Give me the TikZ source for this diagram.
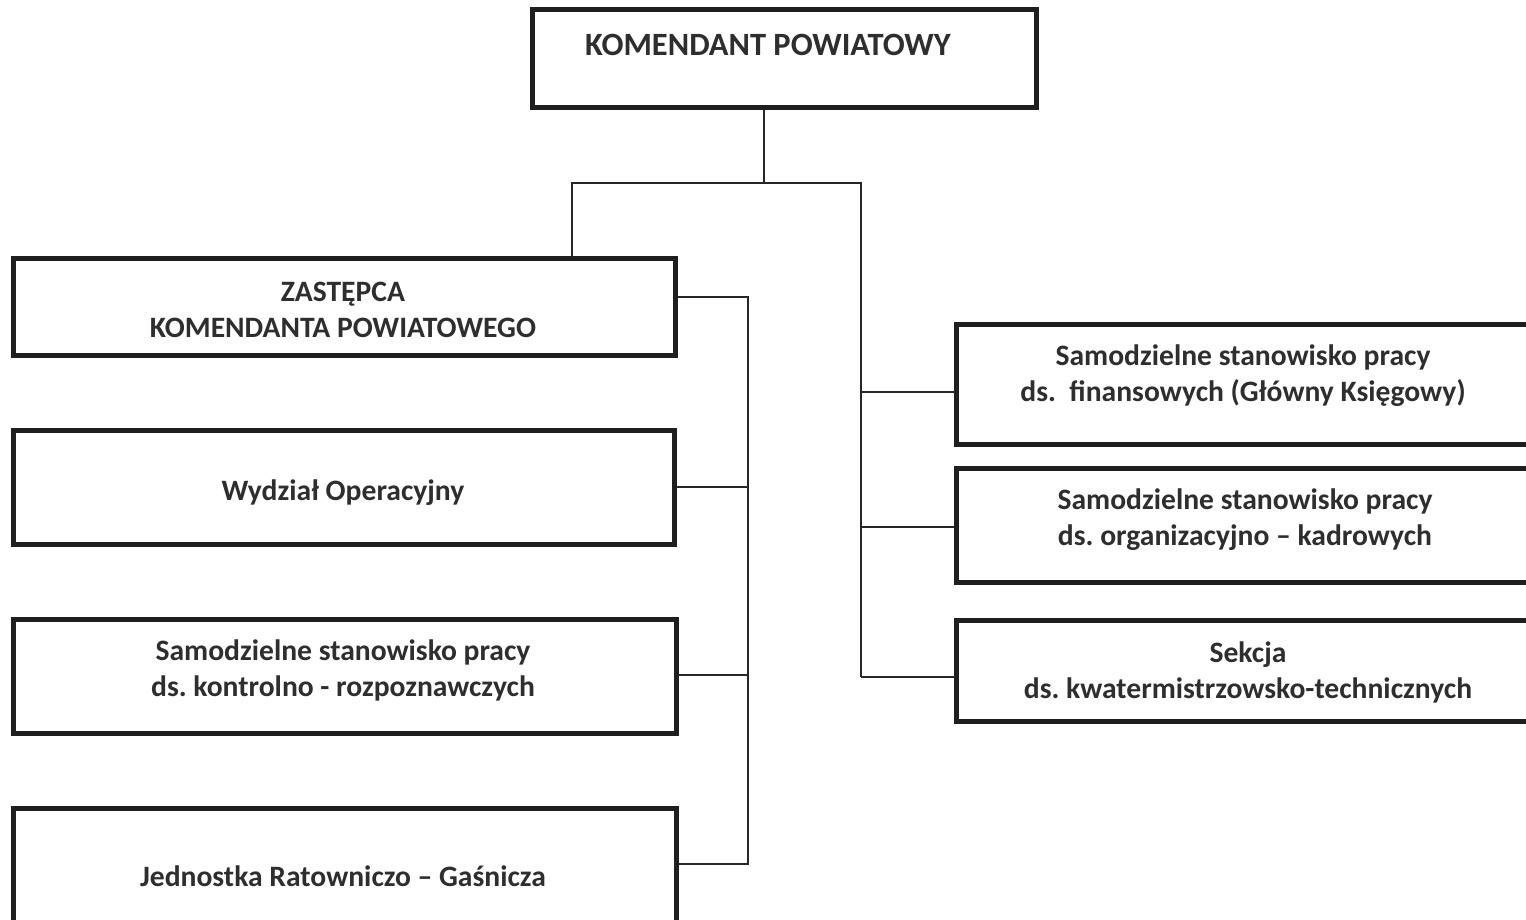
\documentclass[tikz,border=0pt]{standalone}
\usepackage{fontspec}
\setmainfont{Carlito}
\frenchspacing
\begin{document}
\begin{tikzpicture}[x=1pt,y=-1pt,
  box/.style={draw=black!88, line width=5pt, inner sep=0pt, fill=white},
  conn/.style={draw=black!85, line width=2pt},
  lbl/.style={font=\fontsize{29.6}{36}\selectfont\bfseries, align=center, text=black!82, inner sep=0pt}]
\useasboundingbox (0,0) rectangle (1526,919);
\clip (0,0) rectangle (1526,919);
\fill[white] (0,0) rectangle (1526,919);
% boxes
\node[box, minimum width=504pt, minimum height=98pt] (kp) at (784,58) {};
\node[box, minimum width=662pt, minimum height=97pt] (zk) at (344,306.5) {};
\node[box, minimum width=661pt, minimum height=114pt] (wo) at (343.5,487) {};
\node[box, minimum width=663pt, minimum height=114pt] (kr) at (344.5,676) {};
\node[box, minimum width=663pt, minimum height=132pt] (jr) at (344.5,874) {};
\node[box, minimum width=589pt, minimum height=120pt] (ra) at (1250.5,384) {};
\node[box, minimum width=589pt, minimum height=114pt] (rb) at (1250.5,525) {};
\node[box, minimum width=589pt, minimum height=101pt] (rc) at (1250.5,670.5) {};
% texts
\node[lbl, font=\fontsize{32.5}{36}\selectfont\bfseries] (tkp) at (768,45) {KOMENDANT POWIATOWY};
\node[lbl] (tzk) at (343,310) {ZASTĘPCA\\KOMENDANTA POWIATOWEGO};
\node[lbl] (two) at (343,493) {Wydział Operacyjny};
\node[lbl] (tkr) at (343,670) {Samodzielne stanowisko pracy\\ds. kontrolno - rozpoznawczych};
\node[lbl] (tjr) at (343,876) {Jednostka Ratowniczo – Gaśnicza};
\node[lbl] (tra) at (1243,376) {Samodzielne stanowisko pracy\\ds.\ \ finansowych (Główny Księgowy)};
\node[lbl] (trb) at (1245,520) {Samodzielne stanowisko pracy\\ds. organizacyjno – kadrowych};
\node[lbl] (trc) at (1248,672) {Sekcja\\ds. kwatermistrzowsko-technicznych};
% junctions
\coordinate (j1) at (764,183);
\coordinate (jl) at (572,183);
\coordinate (jrt) at (861,183);
\coordinate (lb1) at (748,297);
\coordinate (lb2) at (748,487);
\coordinate (lb3) at (748,675);
\coordinate (lb4) at (748,864);
\coordinate (rb1) at (861,392);
\coordinate (rb2) at (861,527);
\coordinate (rb3) at (861,677);
% connectors
\draw[conn] (j1 |- kp.south) -- (j1);
\draw[conn] (jl |- zk.north) -- (jl) -- (jrt) -- (rb3);
\draw[conn] (lb1 -| zk.east) -- (lb1) -- (lb4) -- (lb4 -| jr.east);
\draw[conn] (wo.east) -- (lb2);
\draw[conn] (lb3 -| kr.east) -- (lb3);
\draw[conn] (rb1) -- (rb1 -| ra.west);
\draw[conn] (rb2) -- (rb2 -| rb.west);
\draw[conn] (rb3) -- (rb3 -| rc.west);
\end{tikzpicture}
\end{document}
